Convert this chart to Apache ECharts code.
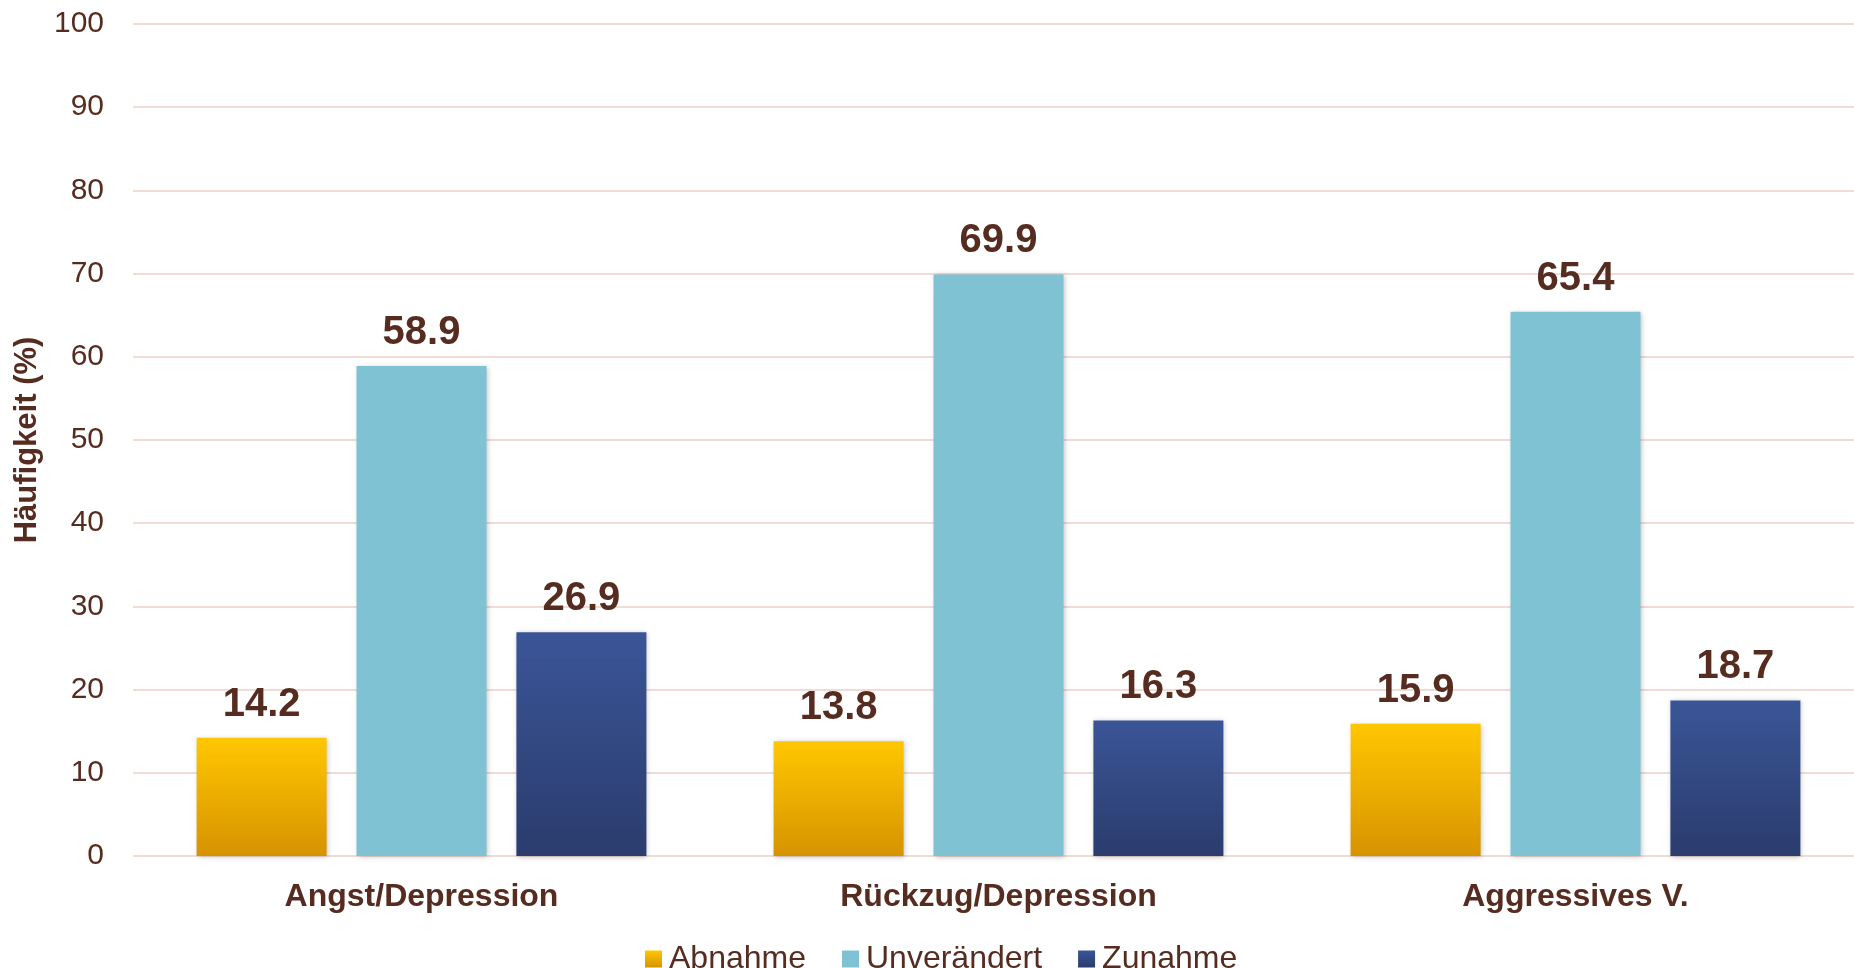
<!DOCTYPE html>
<html>
<head>
<meta charset="utf-8">
<script src="https://cdn.jsdelivr.net/npm/echarts@6/dist/echarts.min.js"></script>
<style>
    html, body { margin: 0; padding: 0; background: #fff; overflow: hidden; }
    /* etwas breiter als das Fenster: die Kategorien im Original reichen über den rechten Rand */
    #chart { width: 1864px; height: 968px; }
</style>
</head>
<body>
<div id="chart"></div>
<script>
    // Kategorien und Werte (%)
    var categories = ['Angst/Depression', 'Rückzug/Depression', 'Aggressives V.']
    var abnahme = [14.2, 13.8, 15.9]
    var unveraendert = [58.9, 69.9, 65.4]
    var zunahme = [26.9, 16.3, 18.7]
    var yTicks = [0, 100, 10] // min, max, interval

    var textColor = '#562b20'
    var font = 'Liberation Sans, Arial, sans-serif'

    function grad(top, bottom) {
        return new echarts.graphic.LinearGradient(0, 0, 0, 1, [
            { offset: 0, color: top },
            { offset: 1, color: bottom }
        ])
    }

    function makeSeries(name, data, color) {
        return {
            name: name,
            type: 'bar',
            data: data,
            barWidth: 130,
            barGap: '23%',
            itemStyle: {
                color: color,
                shadowBlur: 5,
                shadowColor: 'rgba(0,0,0,0.25)',
                shadowOffsetX: 1,
                shadowOffsetY: 1
            },
            label: {
                show: true,
                position: 'top',
                distance: 13,
                color: textColor,
                fontFamily: font,
                fontWeight: 'bold',
                fontSize: 40,
                formatter: function (p) { return p.value.toFixed(1) }
            }
        }
    }

    var chart = echarts.init(document.getElementById('chart'))
    chart.setOption({
        animation: false,
        textStyle: { fontFamily: font },
        grid: { left: 133, right: 0, top: 24, bottom: 112, containLabel: false },
        legend: {
            top: 938,
            left: 640,
            icon: 'rect',
            itemWidth: 17,
            itemHeight: 17,
            itemGap: 36,
            textStyle: { color: textColor, fontSize: 32, fontFamily: font, padding: [0, 0, 0, 2] }
        },
        xAxis: {
            type: 'category',
            data: categories,
            axisLine: { show: false },
            axisTick: { show: false },
            axisLabel: {
                color: textColor,
                fontWeight: 'bold',
                fontSize: 32,
                fontFamily: font,
                margin: 25
            }
        },
        yAxis: {
            type: 'value',
            min: yTicks[0],
            max: yTicks[1],
            interval: yTicks[2],
            name: 'Häufigkeit (%)',
            nameLocation: 'middle',
            nameGap: 90,
            nameTextStyle: { color: textColor, fontWeight: 'bold', fontSize: 31, fontFamily: font },
            axisLine: { show: false },
            axisTick: { show: false },
            axisLabel: { color: textColor, fontSize: 30, fontFamily: font, margin: 29 },
            splitLine: { lineStyle: { color: '#f1dcd5', width: 2 } }
        },
        series: [
            makeSeries('Abnahme', abnahme, grad('#ffc700', '#d69300')),
            makeSeries('Unverändert', unveraendert, '#7fc2d3'),
            makeSeries('Zunahme', zunahme, grad('#3a5597', '#2b3c6d'))
        ]
    })
</script>
</body>
</html>
